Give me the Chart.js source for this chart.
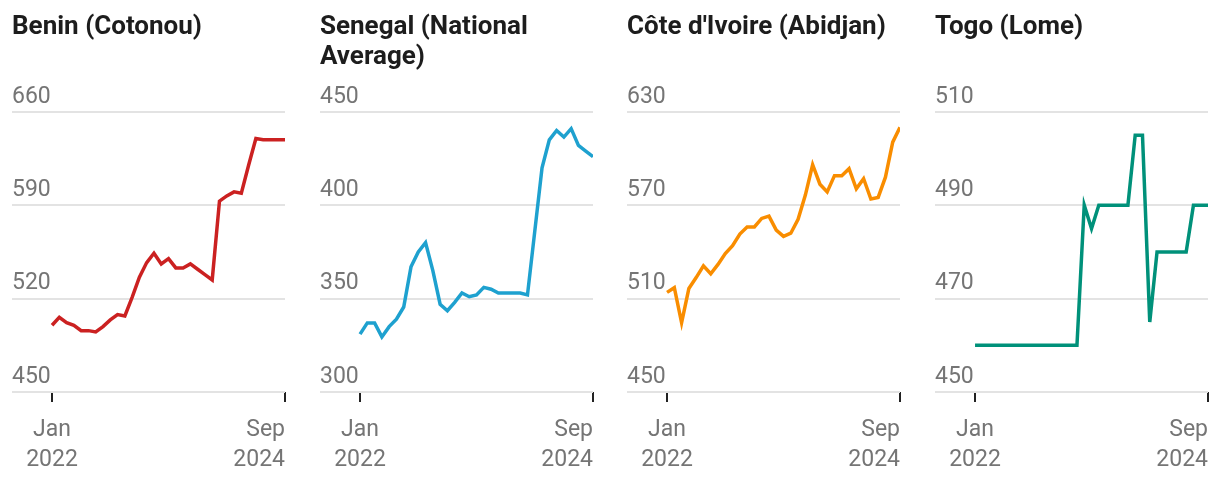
<!DOCTYPE html>
<html>
<head>
<meta charset="utf-8">
<title>Rice prices small multiples</title>
<script src="https://cdn.jsdelivr.net/npm/chart.js@4"></script>
<style>
  body { margin: 0; background: #fff; width: 1220px; height: 482px; overflow: hidden; }
  .panel { position: absolute; top: 0; width: 300px; height: 482px; }
  canvas { -moz-user-select: none; -webkit-user-select: none; user-select: none; }
</style>
</head>
<body>
<div class="panel" style="left:12px"><canvas id="c0" width="300" height="482"></canvas></div>
<div class="panel" style="left:320px"><canvas id="c1" width="300" height="482"></canvas></div>
<div class="panel" style="left:627px"><canvas id="c2" width="300" height="482"></canvas></div>
<div class="panel" style="left:935px"><canvas id="c3" width="300" height="482"></canvas></div>
<script>
// monthly values, Jan 2022 .. Sep 2024 (33 months)
var benin = [500, 506, 502, 500, 496, 496, 495, 499, 504, 508, 507, 521, 536, 547, 554, 546, 550, 543, 543, 546,
             542, 538, 534, 593, 597, 600, 599, 620, 640, 639, 639, 639, 639];
var senegal = [331, 337, 337, 329.5, 335, 339, 345.5, 367, 375, 380, 365, 347, 343.5, 348, 353, 351, 352, 356, 355, 353,
               353, 353, 353, 352, 386, 420, 435, 440, 436.5, 441, 432, 429, 426];
var coteDIvoire = [514, 517, 494.5, 516.5, 523.5, 531, 526, 532, 539, 544, 551.5, 556, 556, 561.5, 563, 554, 550, 552, 561, 576.5,
                   596, 583.5, 578.5, 589, 589, 593.5, 580.5, 587, 574, 575, 588, 610.5, 620];
var togo = [460, 460, 460, 460, 460, 460, 460, 460, 460, 460, 460, 460, 460, 460, 460, 490, 485, 490, 490, 490,
            490, 490, 505, 505, 465, 480, 480, 480, 480, 480, 490, 490, 490];

var titles = [['Benin (Cotonou)', ''], ['Senegal (National', 'Average)'], ["Côte d'Ivoire (Abidjan)", ''], ['Togo (Lome)', '']];
var colors = ['#cb2121', '#1ea1cf', '#f98d00', '#00917a'];
var yTicks = [[450, 520, 590, 660], [300, 350, 400, 450], [450, 510, 570, 630], [450, 470, 490, 510]];
var xTickPos = [0, 32];
var xTickLabels = [['Jan', '2022'], ['Sep', '2024']];

var series = [benin, senegal, coteDIvoire, togo];
var monthIdx = benin.map(function (v, i) { return i; });

var gray = '#757575';
var tickFont = { family: 'Roboto', size: 23 };

// x labels: first centred on its tick, last one flush right with the plot edge
var xLabelPlugin = {
  id: 'xLabels',
  afterDraw: function (chart) {
    var ctx = chart.ctx, xs = chart.scales.x, area = chart.chartArea;
    ctx.save();
    ctx.font = '23px Roboto';
    ctx.fillStyle = gray;
    ctx.textBaseline = 'middle';
    xTickPos.forEach(function (v, k) {
      var px = xs.getPixelForValue(v);
      ctx.textAlign = px > area.right - 2 ? 'right' : 'center';
      xTickLabels[k].forEach(function (line, j) {
        ctx.fillText(line, px, area.bottom + 38 + j * 30);
      });
    });
    ctx.restore();
  }
};

series.forEach(function (vals, n) {
  var ticks = yTicks[n];
  new Chart(document.getElementById('c' + n), {
    type: 'line',
    data: {
      labels: monthIdx,
      datasets: [{
        data: vals.map(function (v, i) { return { x: monthIdx[i], y: v }; }),
        borderColor: colors[n],
        borderWidth: 3.5,
        pointRadius: 0,
        tension: 0,
        fill: false
      }]
    },
    options: {
      responsive: false,
      animation: false,
      events: [],
      layout: { padding: { top: 0, left: 0, right: 27, bottom: 80 } },
      plugins: {
        legend: { display: false },
        tooltip: { enabled: false },
        title: {
          display: true,
          text: titles[n],
          align: 'start',
          color: '#1d1d1d',
          font: { family: 'Roboto', size: 26, weight: 'bold', lineHeight: 1.16 },
          padding: { top: 12, bottom: 39.5 }
        }
      },
      scales: {
        x: {
          type: 'linear',
          min: -5.5,
          max: 32,
          afterBuildTicks: function (s) { s.ticks = xTickPos.map(function (v) { return { value: v }; }); },
          ticks: { display: false },
          grid: { drawOnChartArea: false, drawTicks: true, tickLength: 10, color: '#222', lineWidth: 2 },
          border: { display: false }
        },
        y: {
          min: ticks[0],
          max: ticks[ticks.length - 1],
          afterBuildTicks: function (s) { s.ticks = ticks.map(function (v) { return { value: v }; }); },
          ticks: { mirror: true, padding: 0, labelOffset: -15, color: gray, font: tickFont },
          grid: { drawTicks: false, color: '#e3e3e3', lineWidth: 2 },
          border: { display: false }
        }
      }
    },
    plugins: [xLabelPlugin]
  });
});
</script>
</body>
</html>
